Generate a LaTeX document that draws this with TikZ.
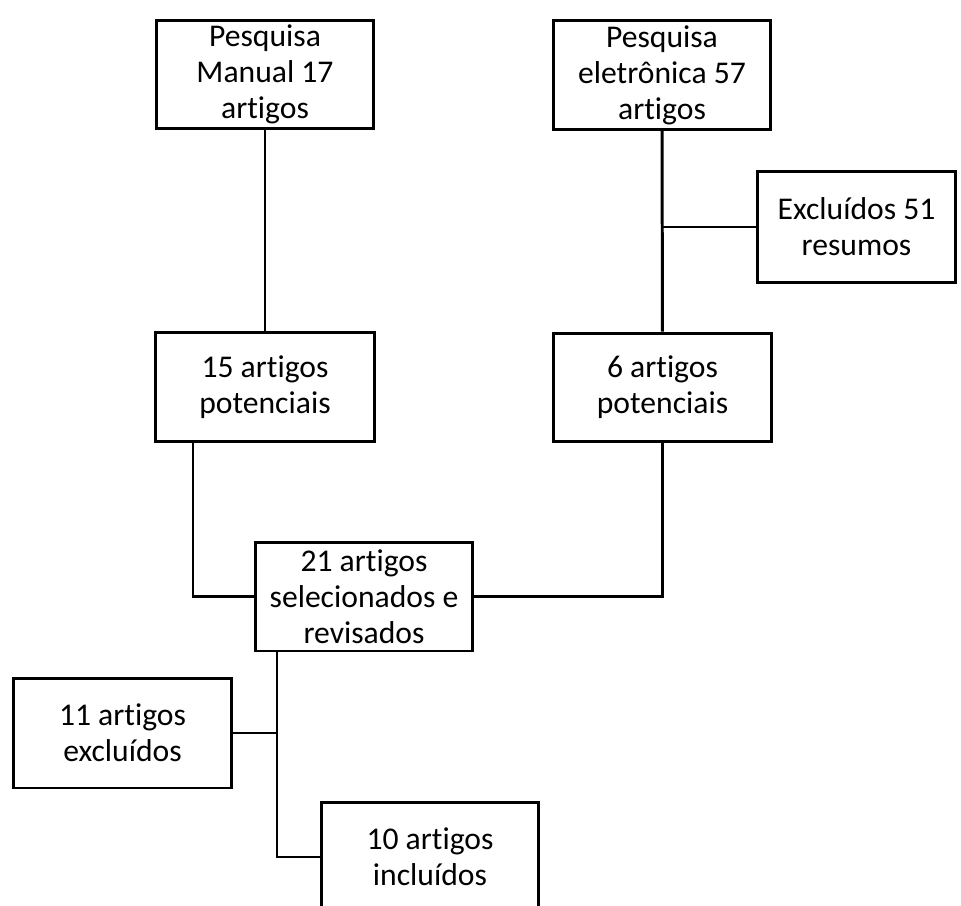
\documentclass[tikz,border=0pt]{standalone}
\usepackage{fontspec}
\setmainfont[Ligatures=NoCommon]{Carlito}
\usepackage{tikz}
\usetikzlibrary{positioning,calc}

\begin{document}
\begin{tikzpicture}[x=0.02cm, y=-0.02cm,
    every node/.style={font=\fontsize{18}{20.5}\selectfont, align=center},
    caixa/.style={draw, line width=1.7pt, inner sep=0pt, minimum width=4.36cm, minimum height=2.18cm},
    liga/.style={line width=1.7pt}]
  \fill[white] (0,0) rectangle (961,906);
  \useasboundingbox (0,0) rectangle (961,906);
  % caixas
  \node[caixa] (manual) at (265,74.5) {Pesquisa\\Manual 17\\artigos};
  \node[caixa] (eletronica) at (662,75) {Pesquisa\\eletrônica 57\\artigos};
  \node[caixa, minimum width=3.98cm, minimum height=2.24cm] (excl51) at (856.5,227) {Excluídos 51\\resumos};
  \node[caixa, minimum width=4.4cm] (pot15) at (265,387) {15 artigos\\potenciais};
  \node[caixa] (pot6) at (662.5,387.5) {6 artigos\\potenciais};
  \node[caixa] (sel21) at (364,596.5) {21 artigos\\selecionados e\\revisados};
  \node[caixa, minimum height=2.2cm] (excl11) at (122.5,733) {11 artigos\\excluídos};
  \node[caixa, minimum height=2.2cm] (inc10) at (430,857) {10 artigos\\incluídos};
  % pontos de ligacao
  \coordinate (saida15) at (193,441);
  \coordinate (saida21) at (277,651);
  % ligacoes
  \draw[liga] (manual) -- (pot15);
  \draw[liga] (eletronica) -- (pot6);
  \draw[liga] (excl51.west) -- (excl51.west -| eletronica.south);
  \draw[liga] (saida15) |- (sel21.west);
  \draw[liga] (pot6.south) |- (sel21.east);
  \draw[liga] (saida21) |- (inc10.west);
  \draw[liga] (excl11.east) -- (excl11.east -| saida21);
\end{tikzpicture}
\end{document}
